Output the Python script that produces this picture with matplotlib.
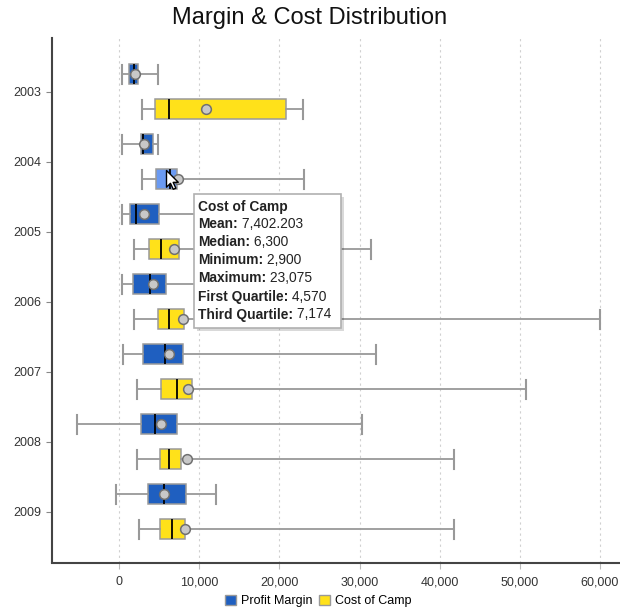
import matplotlib
matplotlib.use("Agg")
import matplotlib.pyplot as plt
from matplotlib.patches import Patch, FancyBboxPatch
from matplotlib.path import Path
from matplotlib.text import Annotation
from matplotlib.ticker import FuncFormatter

plt.rcParams['font.family'] = ['Liberation Sans', 'DejaVu Sans']

years = ["2003", "2004", "2005", "2006", "2007", "2008", "2009"]
series_names = ["Profit Margin", "Cost of Camp"]

# Profit Margin statistics
pm_low = [340, 340, 340, 340, 460, -5200, -370]
pm_q1 = [1280, 2740, 1370, 1700, 3030, 2740, 3660]
pm_med = [1910, 3030, 2120, 3870, 5780, 4450, 5650]
pm_q3 = [2410, 4280, 4990, 5860, 8020, 7230, 8320]
pm_high = [4900, 4900, 14000, 18000, 32100, 30300, 12060]
pm_mean = [1960, 3080, 3160, 4280, 6240, 5240, 5650]

# Cost of Camp statistics
cc_low = [2830, 2900, 1910, 1910, 2200, 2200, 2490]
cc_q1 = [4490, 4570, 3780, 4900, 5280, 5110, 5150]
cc_med = [6200, 6300, 5200, 6270, 7230, 6240, 6570]
cc_q3 = [20790, 7174, 7520, 8110, 9070, 7730, 8190]
cc_high = [23000, 23075, 31430, 60000, 50800, 41800, 41800]
cc_mean = [10810, 7402.203, 6900, 8020, 8570, 8520, 8230]

x_ticks = [0, 10000, 20000, 30000, 40000, 50000, 60000]
hover_index = 1  # 2004 Cost of Camp is hovered

W, H = 620, 613
fig = plt.figure(figsize=(W / 100, H / 100), dpi=100)
ax = fig.add_axes([52 / W, 1 - 562.5 / H, (620 - 52) / W, (562.5 - 38.3) / H])

blue = "#1f5fc0"
yellow = "#ffe11a"
hover_blue = "#6a9af2"


def stats(low, q1, med, q3, high, mean):
    return [dict(whislo=a, q1=b, med=c, q3=d, whishi=e, mean=f, fliers=[])
            for a, b, c, d, e, f in zip(low, q1, med, q3, high, mean)]


pm_stats = stats(pm_low, pm_q1, pm_med, pm_q3, pm_high, pm_mean)
cc_stats = stats(cc_low, cc_q1, cc_med, cc_q3, cc_high, cc_mean)

idx = list(range(len(years)))
off = 0.25
common = dict(widths=0.285, capwidths=0.27, patch_artist=True, showmeans=True,
              meanprops=dict(marker='o', markerfacecolor='#c8c8c8', markeredgecolor='#707070',
                             markersize=7, markeredgewidth=1.1),
              medianprops=dict(color='black', linewidth=1.3),
              whiskerprops=dict(color='#999999', linewidth=1.3),
              capprops=dict(color='#999999', linewidth=1.5),
              boxprops=dict(edgecolor='#9a9a9a', linewidth=1.1),
              manage_ticks=False)


def do_bxp(st, pos, color):
    try:
        r = ax.bxp(st, positions=pos, orientation='horizontal', **common)
    except TypeError:
        r = ax.bxp(st, positions=pos, vert=False, **common)
    for b in r['boxes']:
        b.set_facecolor(color)
    return r


r1 = do_bxp(pm_stats, [i - off for i in idx], blue)
r2 = do_bxp(cc_stats, [i + off for i in idx], yellow)
r2['boxes'][hover_index].set_facecolor(hover_blue)

ax.set_xlim(-8360, 62490)
ax.set_ylim(6.726, -0.763)
ax.set_yticks(idx)
ax.set_yticklabels(years)
ax.set_xticks(x_ticks)
ax.xaxis.set_major_formatter(FuncFormatter(lambda v, p: f"{int(v):,}"))
ax.grid(axis='x', linestyle=(0, (2, 3)), color='#d0d0d0', linewidth=0.8)
ax.set_axisbelow(True)
for s in ['top', 'right']:
    ax.spines[s].set_visible(False)
for s in ['left', 'bottom']:
    ax.spines[s].set_color('#444444')
    ax.spines[s].set_linewidth(1.5)
ax.tick_params(axis='both', labelsize=9, colors='#333333', length=4, width=0.8)
ax.tick_params(axis='x', color='#bbbbbb', pad=6)
ax.tick_params(axis='y', color='#888888', pad=4)

# cursor over hovered box
cursor = Path([(0, 0), (0, -16), (3.8, -12.3), (6.5, -18), (9, -17), (6.4, -11.4), (11.3, -11.3), (0, 0)],
              [Path.MOVETO] + [Path.LINETO] * 6 + [Path.CLOSEPOLY])
ax.plot([(cc_q1[hover_index] + cc_med[hover_index]) / 2 + 400], [hover_index + off - 0.13],
        marker=cursor, markersize=27, markerfacecolor='white', markeredgecolor='black',
        markeredgewidth=1.0, linestyle='none', zorder=10)

# title
fig.text(0.5, 1 - 18 / H, "Margin & Cost Distribution", ha='center', va='center',
         fontsize=17, color='#111111')

# legend
handles = [Patch(facecolor=blue, edgecolor='#999999', label=series_names[0]),
           Patch(facecolor=yellow, edgecolor='#999999', label=series_names[1])]
fig.legend(handles=handles, loc='center', bbox_to_anchor=(0.513, 1 - 601 / H), ncol=2,
           frameon=False, fontsize=9, handlelength=0.9, handleheight=0.9,
           handletextpad=0.4, columnspacing=0.5)

# tooltip
tx0, ty0, tx1, ty1 = 194, 194, 341, 328
shadow = FancyBboxPatch(((tx0 + 3) / W, 1 - (ty1 + 3) / H), (tx1 - tx0) / W, (ty1 - ty0) / H,
                        boxstyle="square,pad=0", transform=fig.transFigure,
                        facecolor='#000000', alpha=0.15, edgecolor='none', zorder=20)
fig.patches.append(shadow)
tip = FancyBboxPatch((tx0 / W, 1 - ty1 / H), (tx1 - tx0) / W, (ty1 - ty0) / H,
                     boxstyle="square,pad=0", transform=fig.transFigure,
                     facecolor='white', edgecolor='#b0b0b0', linewidth=1.2, zorder=21)
fig.patches.append(tip)


def fmt(v):
    if float(v).is_integer():
        return f"{int(v):,}"
    return f"{v:,.3f}"


hi = hover_index
rows = [("Mean:", fmt(cc_mean[hi])), ("Median:", fmt(cc_med[hi])),
        ("Minimum:", fmt(cc_low[hi])), ("Maximum:", fmt(cc_high[hi])),
        ("First Quartile:", fmt(cc_q1[hi])), ("Third Quartile:", fmt(cc_q3[hi]))]
fs = 9.9
y = 206.5
fig.text(198 / W, 1 - y / H, series_names[1], fontsize=fs, fontweight='bold',
         color='#222222', va='center', ha='left', zorder=22)
for lab, val in rows:
    y += 18
    t = fig.text(198 / W, 1 - y / H, lab, fontsize=fs, fontweight='bold',
                 color='#222222', va='center', ha='left', zorder=22)
    a = Annotation(" " + val, xy=(1, 0.5), xycoords=t, va='center', ha='left',
                   fontsize=fs, color='#222222', annotation_clip=False)
    a.set_zorder(23)
    fig.add_artist(a)

fig.savefig("out.png", dpi=100)
